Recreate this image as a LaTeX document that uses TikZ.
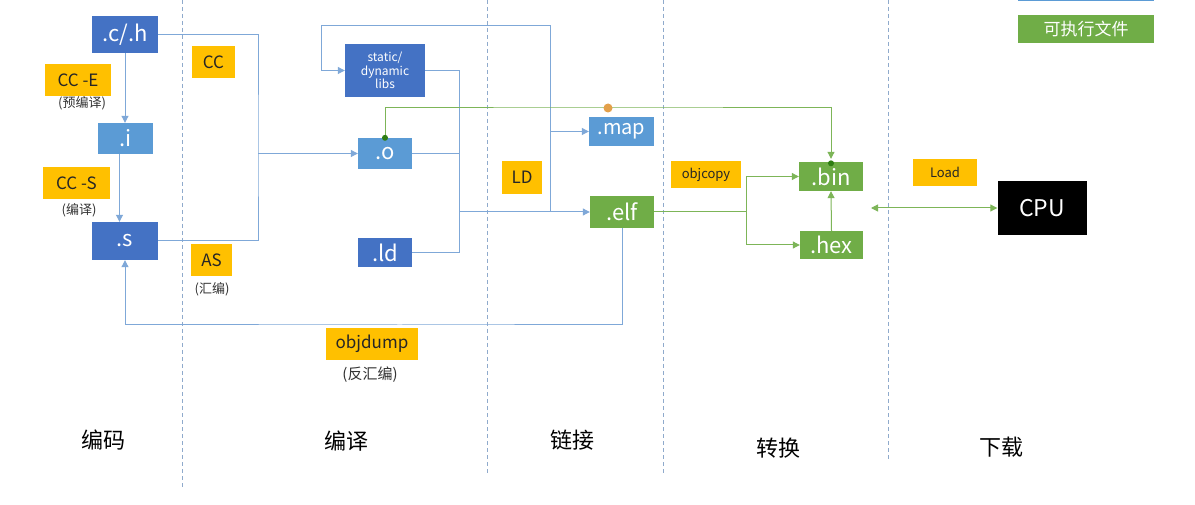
\documentclass[tikz,border=0pt]{standalone}
\usepackage{fontspec}
\setmainfont{Noto Sans CJK SC}
\usetikzlibrary{arrows.meta,calc}
\definecolor{dblue}{HTML}{4472C4}
\definecolor{lblue}{HTML}{5B9BD5}
\definecolor{xgreen}{HTML}{70AD47}
\definecolor{xyellow}{HTML}{FFC000}
\definecolor{lineblue}{HTML}{7FA8D8}
\definecolor{linegreen}{HTML}{7DB558}
\definecolor{dashcol}{HTML}{8FAACC}
\definecolor{dotgreen}{HTML}{2E7D12}
\definecolor{dotorange}{HTML}{E3A04A}
\tikzset{
  box/.style={rectangle, inner sep=0pt, text=white, align=center},
  filebox/.style={box, fill=dblue, font=\fontsize{22}{24}\selectfont},
  lfilebox/.style={box, fill=lblue, font=\fontsize{22}{24}\selectfont},
  gfilebox/.style={box, fill=xgreen, font=\fontsize{22}{24}\selectfont},
  tool/.style={rectangle, inner sep=0pt, fill=xyellow, text=black!85, font=\fontsize{17}{19}\selectfont},
  smalltool/.style={tool, font=\fontsize{13}{15}\selectfont},
  note/.style={inner sep=0pt, text=black!80, font=\fontsize{13}{15}\selectfont},
  stage/.style={inner sep=0pt, text=black, font=\fontsize{22}{24}\selectfont},
  sep/.style={dashcol, dash pattern=on 4pt off 3pt, line width=0.8pt},
  conn/.style={lineblue, line width=1pt},
  arr/.style={conn, -{Triangle[length=7pt,width=7pt]}},
  gconn/.style={linegreen, line width=1pt},
  garr/.style={gconn, -{Triangle[length=7pt,width=7pt]}},
}
\begin{document}
\begin{tikzpicture}[x=1pt,y=-1pt]
\useasboundingbox (0,0) rectangle (1195,505);
\fill[white] (0,0) rectangle (1195,505);

% separators
\draw[sep] (182,0) -- (182,487);
\draw[sep] (487,0) -- (487,475);
\draw[sep] (663,0) -- (663,475);
\draw[sep] (888,0) -- (888,460);

% legend top
\fill[lblue] (1018,-2) rectangle (1154,1.5);
\node[box, fill=xgreen, minimum width=136pt, minimum height=28pt, font=\fontsize{17}{19}\selectfont] (legend) at (1086,29) {可执行文件};

% files
\node[filebox, minimum width=66pt, minimum height=37pt] (ch) at (125,34.5) {.c/.h};
\node[lfilebox, minimum width=55pt, minimum height=31pt] (i) at (125.5,138.5) {.i};
\node[filebox, minimum width=66pt, minimum height=38pt] (s) at (125,241) {.s};
\node[box, fill=dblue, minimum width=80pt, minimum height=53pt, font=\fontsize{12}{13.5}\selectfont] (libs) at (385,70.5) {static/\\dynamic\\libs};
\node[lfilebox, minimum width=54pt, minimum height=31pt] (o) at (385,153.5) {.o};
\node[filebox, minimum width=54pt, minimum height=29pt] (ld) at (385,252.5) {.ld};
\node[lfilebox, minimum width=65pt, minimum height=29pt, font=\fontsize{20}{22}\selectfont] (map) at (621.5,131.5) {.map};
\node[gfilebox, minimum width=64pt, minimum height=32pt] (elf) at (622,212) {.elf};
\node[gfilebox, minimum width=64pt, minimum height=29pt] (bin) at (831,176.5) {.bin};
\node[gfilebox, minimum width=63pt, minimum height=28pt] (hex) at (831.5,245) {.hex};
\node[box, fill=black, minimum width=89pt, minimum height=54pt, font=\fontsize{23}{25}\selectfont] (cpu) at (1042,208) {CPU};

% tools
\node[tool, minimum width=66pt, minimum height=32pt] (cce) at (78,80) {CC -E};
\node[note] (cceN) at (82,103) {(预编译)};
\node[tool, minimum width=67pt, minimum height=32pt] (ccs) at (76.5,183) {CC -S};
\node[note] (ccsN) at (79,210) {(编译)};
\node[tool, minimum width=43pt, minimum height=32pt] (cc) at (213.5,62) {CC};
\node[tool, minimum width=41pt, minimum height=32pt] (as) at (211.5,260) {AS};
\node[note] (asN) at (212,289) {(汇编)};
\node[tool, minimum width=40pt, minimum height=33pt] (ldt) at (522,177.5) {LD};
\node[tool, minimum width=92pt, minimum height=32pt] (dump) at (372,344) {objdump};
\node[note, font=\fontsize{15}{17}\selectfont] (dumpN) at (370,375) {(反汇编)};
\node[smalltool, minimum width=70pt, minimum height=27pt] (copy) at (706,174.5) {objcopy};
\node[smalltool, minimum width=64pt, minimum height=27pt] (load) at (945,172.5) {Load};

% stage labels
\node[stage] (st1) at (103,440) {编码};
\node[stage] (st2) at (346,441) {编译};
\node[stage] (st3) at (572,440) {链接};
\node[stage] (st4) at (778,448) {转换};
\node[stage] (st5) at (1001,447) {下载};

% coding connectors
\draw[arr] (ch.south) -- (ch.south |- i.north);
\draw[arr] ([xshift=-6pt]i.south) -- ([xshift=-6pt]i.south |- s.north);

% compile bus
\coordinate (ccbus) at (258,153.5);
\draw[conn] (ch.east) -| (ccbus) |- (s.east);
\draw[arr] (ccbus) -- (o.west);

% link bus
\coordinate (ldbus) at (459,212);
\draw[conn] (o.east) -| (ldbus);
\draw[conn] (libs.east) -| (ldbus);
\draw[conn] (ld.east) -| (ldbus);
\draw[arr] (ldbus) -- (elf.west);
\coordinate (fb0) at (550,212);
\coordinate (fb1) at (550,26);
\coordinate (fb2) at (321,26);
\draw[arr] (fb0) -- (fb1) -- (fb2) |- (libs.west);
\draw[arr] (map.west -| fb0) -- (map.west);

% disassembly
\coordinate (dumpy) at (400,325);
\draw[arr] (elf.south) |- (dumpy) -| (s.south);

% conversion
\coordinate (cp) at (746,212);
\draw[gconn] (elf.east) -- (cp);
\draw[garr] (cp) |- (bin.west);
\draw[garr] (cp) |- (hex.west);
\draw[garr] (hex.north) -- (bin.south);
\coordinate (gtop) at (608,108);
\coordinate (binin) at ([yshift=3pt]bin.north);
\draw[garr] (o.north) |- (gtop) -| (binin);
\fill[dotgreen] (o.north) circle (3pt);
\fill[dotgreen] ([yshift=-1.5pt]bin.north) circle (3pt);
\fill[dotorange] (gtop) circle (4.5pt);

% load
\coordinate (loadend) at (871,208);
\draw[gconn, {Triangle[length=7pt,width=7pt]}-{Triangle[length=7pt,width=7pt]}] (loadend) -- (loadend -| cpu.west);
\end{tikzpicture}
\end{document}
